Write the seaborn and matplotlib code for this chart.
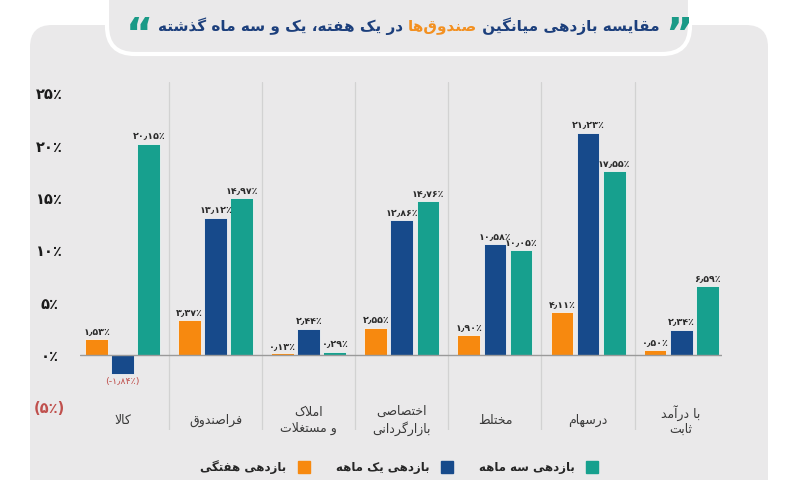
import pandas as pd
import matplotlib.pyplot as plt
import seaborn as sns
from matplotlib.patches import FancyBboxPatch
from matplotlib.lines import Line2D

# data (percent)
categories = ['کالا', 'فراصندوق', 'املاک\nو مستغلات', 'اختصاصی\nبازارگردانی', 'مختلط', 'درسهام', 'با درآمد\nثابت']
weekly = [1.53, 3.37, 0.13, 2.55, 1.90, 4.11, 0.50]
monthly = [-1.84, 13.12, 2.44, 12.86, 10.58, 21.23, 2.34]
quarterly = [20.15, 14.97, 0.29, 14.76, 10.05, 17.55, 6.59]
series = ['بازدهی هفتگی', 'بازدهی یک ماهه', 'بازدهی سه ماهه']
colors = ['#f7890f', '#174a8b', '#17a08e']
yticks = [-5, 0, 5, 10, 15, 20, 25]
title_parts = ['مقایسه بازدهی میانگین ', 'صندوق‌ها', ' در یک هفته، یک و سه ماه گذشته']

# matplotlib has no arabic shaping, so pick presentation forms by hand
FORMS = {
    'ا': ('\uFE8D', '\uFE8E', None, None), 'آ': ('\uFE81', '\uFE82', None, None),
    'ب': ('\uFE8F', '\uFE90', '\uFE91', '\uFE92'), 'ت': ('\uFE95', '\uFE96', '\uFE97', '\uFE98'),
    'ث': ('\uFE99', '\uFE9A', '\uFE9B', '\uFE9C'), 'خ': ('\uFEA5', '\uFEA6', '\uFEA7', '\uFEA8'),
    'د': ('\uFEA9', '\uFEAA', None, None), 'ذ': ('\uFEAB', '\uFEAC', None, None),
    'ر': ('\uFEAD', '\uFEAE', None, None), 'ز': ('\uFEAF', '\uFEB0', None, None),
    'س': ('\uFEB1', '\uFEB2', '\uFEB3', '\uFEB4'), 'ش': ('\uFEB5', '\uFEB6', '\uFEB7', '\uFEB8'),
    'ص': ('\uFEB9', '\uFEBA', '\uFEBB', '\uFEBC'), 'ط': ('\uFEC1', '\uFEC2', '\uFEC3', '\uFEC4'),
    'غ': ('\uFECD', '\uFECE', '\uFECF', '\uFED0'), 'ف': ('\uFED1', '\uFED2', '\uFED3', '\uFED4'),
    'ق': ('\uFED5', '\uFED6', '\uFED7', '\uFED8'), 'ل': ('\uFEDD', '\uFEDE', '\uFEDF', '\uFEE0'),
    'م': ('\uFEE1', '\uFEE2', '\uFEE3', '\uFEE4'), 'ن': ('\uFEE5', '\uFEE6', '\uFEE7', '\uFEE8'),
    'و': ('\uFEED', '\uFEEE', None, None), 'ه': ('\uFEE9', '\uFEEA', '\uFEEB', '\uFEEC'),
    'ی': ('\uFBFC', '\uFBFD', '\uFBFE', '\uFBFF'), 'ک': ('\uFB8E', '\uFB8F', '\uFB90', '\uFB91'),
    'گ': ('\uFB92', '\uFB93', '\uFB94', '\uFB95'),
    'لا': ('\uFEFB', '\uFEFC', None, None), 'لآ': ('\uFEF5', '\uFEF6', None, None),
}


def shape(text):
    lines = []
    for line in text.split('\n'):
        seq = []
        i = 0
        while i < len(line):
            if line[i] == 'ل' and i + 1 < len(line) and line[i + 1] in 'اآ':
                seq.append(line[i:i + 2])
                i += 2
            else:
                seq.append(line[i])
                i += 1
        out = []
        for k, c in enumerate(seq):
            if c not in FORMS:
                if c != '\u200c':
                    out.append(c)
                continue
            prev = seq[k - 1] if k > 0 else None
            nxt = seq[k + 1] if k + 1 < len(seq) else None
            jp = prev in FORMS and FORMS[prev][2] is not None
            jn = FORMS[c][2] is not None and nxt in FORMS
            iso, fin, ini, med = FORMS[c]
            out.append(med if jp and jn else fin if jp else ini if jn else iso)
        lines.append(''.join(reversed(out)))
    return '\n'.join(lines)


FA_DIGITS = str.maketrans('0123456789.', '۰۱۲۳۴۵۶۷۸۹٫')


def fa(v):
    s = f'{abs(v):.2f}'.translate(FA_DIGITS) + '٪'
    return '(-' + s + ')' if v < 0 else s


def fa_tick(v):
    s = str(abs(v)).translate(FA_DIGITS) + '٪'
    return '(' + s + ')' if v < 0 else s


df = pd.DataFrame({
    'category': categories * 3,
    'series': [series[0]] * 7 + [series[1]] * 7 + [series[2]] * 7,
    'value': weekly + monthly + quarterly,
})

sns.set_style('white')
plt.rcParams['font.family'] = ['DejaVu Sans']

fig = plt.figure(figsize=(8, 4.8), dpi=100)
fig.patch.set_facecolor('white')

# background panel + title pill, in pixel coords
bg = fig.add_axes([0, 0, 1, 1])
bg.set_xlim(0, 800)
bg.set_ylim(480, 0)
bg.axis('off')
bg.add_patch(FancyBboxPatch((30, 25), 738, 500, boxstyle='round,pad=0,rounding_size=22',
                            fc='#eae9ea', ec='none'))
bg.add_patch(FancyBboxPatch((107, -40), 583, 94, boxstyle='round,pad=0,rounding_size=28',
                            fc='#eae9ea', ec='white', lw=3))

ax = fig.add_axes([80 / 800, 50 / 480, 642 / 800, 348 / 480])
ax.set_facecolor('none')
sns.barplot(data=df, x='category', y='value', hue='series', hue_order=series,
            palette=colors, width=0.84, gap=0.12, ax=ax, legend=False, saturation=1,
            linewidth=0.6, edgecolor='#f4f4f4')
ax.set_xlim(-0.46, 6.44)
ax.set_ylim(-7.2, 26.1)
for s in ax.spines.values():
    s.set_visible(False)
ax.axhline(0, color='#9a9a9a', lw=1, zorder=3)
for i in range(len(categories) - 1):
    ax.axvline(i + 0.5, color='#d2d2d2', lw=0.9, zorder=0)

# value labels
for cont, vals in zip(ax.containers, [weekly, monthly, quarterly]):
    texts = ax.bar_label(cont, labels=[fa(v) for v in vals], padding=2, fontsize=6.8,
                         fontweight='bold', color='#2b2b2b')
    for t, v in zip(texts, vals):
        if v < 0:
            t.set_color('#c0504d')
            t.set_fontweight('normal')

# category labels
ax.set_xticks([])
ax.set_xlabel('')
for i, c in enumerate(categories):
    ax.text(i, -6.3, shape(c), ha='center', va='center', fontsize=9, color='#3a3a3a',
            linespacing=1.25)

# y axis
ax.set_yticks(yticks)
ax.set_yticklabels([fa_tick(v) for v in yticks])
ax.set_ylabel('')
ax.tick_params(axis='y', length=0, pad=22, labelsize=10.5)
for lab, v in zip(ax.get_yticklabels(), yticks):
    lab.set_ha('center')
    lab.set_fontweight('bold')
    lab.set_color('#c0504d' if v < 0 else '#1c1c1c')

# legend, marker on the right of text (rtl)
handles = [Line2D([], [], marker='s', ls='', markersize=9, color=c) for c in colors]
fig.legend(handles, [shape(s) for s in series], ncol=3, markerfirst=False, frameon=False,
           loc='center', bbox_to_anchor=(402 / 800, 1 - 467 / 480),
           prop={'weight': 'bold', 'size': 8.5}, handletextpad=0.5, columnspacing=1.7)

# title in three colored pieces, right to left
tsize = 11
t1 = fig.text(660 / 800, 1 - 26 / 480, shape(title_parts[0]), ha='right', va='center',
              fontsize=tsize, fontweight='bold', color='#1c3f7c')
t2 = fig.text(0, 0, shape(title_parts[1]), ha='right', va='center', fontsize=tsize,
              fontweight='bold', color='#f39020', transform=None)
t3 = fig.text(0, 0, shape(title_parts[2]), ha='right', va='center', fontsize=tsize,
              fontweight='bold', color='#1c3f7c', transform=None)
fig.canvas.draw()
r = fig.canvas.get_renderer()
bb1 = t1.get_window_extent(r)
ymid = (bb1.y0 + bb1.y1) / 2
t2.set_position((bb1.x0, ymid))
bb2 = t2.get_window_extent(r)
t3.set_position((bb2.x0, ymid))
bb3 = t3.get_window_extent(r)
fig.text(bb1.x1 + 5, ymid + 11, '”', ha='left', va='top', fontsize=30, fontweight='bold',
         color='#1a9a87', transform=None)
fig.text(bb3.x0 - 5, ymid + 11, '“', ha='right', va='top', fontsize=30, fontweight='bold',
         color='#1a9a87', transform=None)

fig.savefig('out.png', dpi=100)
